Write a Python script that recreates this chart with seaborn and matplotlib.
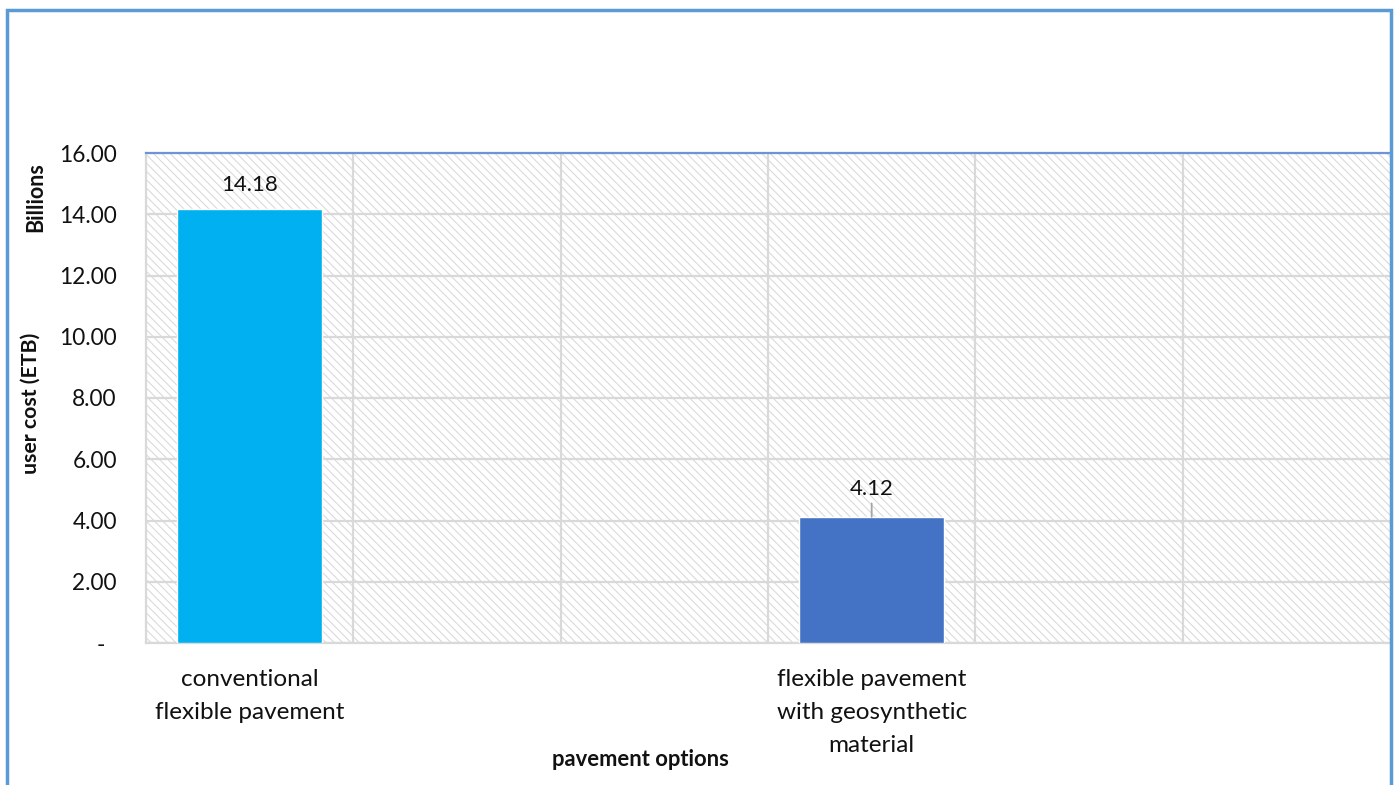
import numpy as np
import pandas as pd
import matplotlib
matplotlib.use("Agg")
import matplotlib.pyplot as plt
from matplotlib.patches import Rectangle
from matplotlib.ticker import FixedLocator
import seaborn as sns

# Category slots on the x axis (six slots, two of them carry a bar)
slot_labels = ["conventional\nflexible pavement", "", "",
               "flexible pavement\nwith geosynthetic\nmaterial", "", ""]
options = ["conventional flexible pavement",
           "flexible pavement with geosynthetic material"]
option_slots = [0, 3]
user_cost_billion = [14.18, 4.12]
bar_colors = ["#00B0F0", "#4472C4"]
y_ticks = [0, 2, 4, 6, 8, 10, 12, 14, 16]

sns.set_theme(style="white")
plt.rcParams["font.family"] = ["Lato", "DejaVu Sans"]
plt.rcParams["hatch.linewidth"] = 0.8

df = pd.DataFrame({"option": options, "slot": option_slots,
                   "cost": user_cost_billion})

W, H = 1396, 785
fig = plt.figure(figsize=(W / 100, H / 100), dpi=100)
ax = fig.add_axes([146 / W, 1 - 643 / H, (1390 - 146) / W, (643 - 153) / H])

# hatched plot-area background
ax.add_patch(Rectangle((0, 0), 1, 1, transform=ax.transAxes, facecolor="white",
                       edgecolor="#DADADA", hatch="\\\\\\\\", linewidth=0, zorder=0))

sns.barplot(data=df, x="slot", y="cost", hue="option", order=list(range(6)),
            palette=bar_colors, width=0.7, dodge=False, legend=False,
            saturation=1, ax=ax, zorder=3)

ax.set_xlim(-0.5, 5.5)
ax.set_ylim(0, 16)
ax.set_yticks(y_ticks)
ax.set_yticklabels(["-  "] + [f"{v:.2f}" for v in y_ticks[1:]])
ax.set_xticks(range(6))
ax.set_xticklabels(slot_labels, linespacing=1.68)
ax.xaxis.set_minor_locator(FixedLocator(np.arange(0.5, 5.5, 1.0)))
ax.tick_params(axis="y", length=0, pad=21, labelsize=16.3, labelcolor="#111111")
ax.tick_params(axis="x", which="both", length=0, pad=19, labelsize=17.5,
               labelcolor="#111111")

ax.grid(axis="y", color="#D9D9D9", linewidth=1.6, zorder=1)
ax.grid(axis="x", which="minor", color="#D9D9D9", linewidth=1.6, zorder=1)
ax.grid(axis="x", which="major", visible=False)
ax.set_axisbelow(True)

for side in ["left", "bottom"]:
    ax.spines[side].set_color("#D9D9D9")
    ax.spines[side].set_linewidth(1.6)
ax.spines["right"].set_visible(False)
ax.spines["top"].set_color("#6F94D6")
ax.spines["top"].set_linewidth(1.6)

ax.set_xlabel("")
ax.set_ylabel("")

# value labels
for slot, val in zip(option_slots, user_cost_billion):
    if val < 8:
        ax.annotate(f"{val:.2f}", xy=(slot, val), xytext=(0, 13),
                    textcoords="offset points", ha="center", va="bottom",
                    fontsize=16, color="#111111",
                    arrowprops=dict(arrowstyle="-", color="#A6A6A6", lw=1.3,
                                    shrinkA=1, shrinkB=0))
    else:
        ax.annotate(f"{val:.2f}", xy=(slot, val), xytext=(0, 10),
                    textcoords="offset points", ha="center", va="bottom",
                    fontsize=16, color="#111111")

fig.text(31 / W, 1 - 403 / H, "user cost (ETB)", rotation=90, ha="center",
         va="center", fontsize=15.3, fontweight="bold", color="#111111")
fig.text(36 / W, 1 - 197 / H, "Billions", rotation=90, ha="center",
         va="center", fontsize=15.5, fontweight="bold", color="#111111")
fig.text(640 / W, 1 - 759 / H, "pavement options", ha="center", va="center",
         fontsize=15.8, fontweight="bold", color="#111111")

# chart frame
fig.add_artist(Rectangle((7 / W, -0.05), (1391 - 7) / W, 1 - 9.5 / H + 0.05,
                         transform=fig.transFigure, fill=False,
                         edgecolor="#5B9BD5", linewidth=2.5))

fig.savefig("out.png", dpi=100)
